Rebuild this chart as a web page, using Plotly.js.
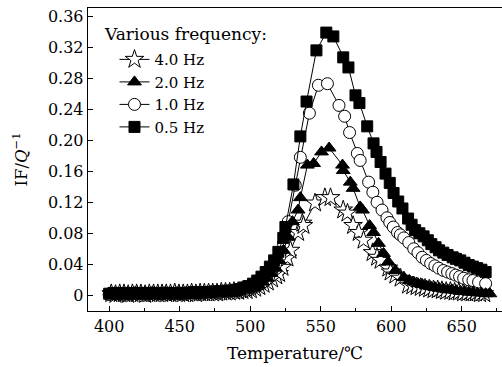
<!DOCTYPE html>
<html>
<head>
<meta charset="utf-8">
<script src="https://cdn.plot.ly/plotly-3.0.1.min.js"></script>
<style>html,body{margin:0;padding:0;background:#fff;}#chart{width:502px;height:367px;}</style>
</head>
<body>
<div id="chart"></div>
<script>
// Temperature (°C) and internal friction IF/Q^-1 for each frequency
const t05 = [400,403,406,409,412,415,418,421,424,427,430,433,436,439,442,445,448,451,454,457,460,463,466,469,472,475,478,481,484,487,490,493,496,499,502,505,508,511,514,517,520,523.5,525,530.7,535.6,540,547,554,559,566,569.7,574.7,577.5,583,587.5,589.6,592.5,596,599,601.7,605,608,612,614.5,617,620,623,626,628.5,631.5,634,637,640,643.6,646,649,652,655,658,661,664,667];
const y05 = [0.002,0.003,0.002,0.003,0.002,0.003,0.002,0.003,0.003,0.002,0.003,0.003,0.002,0.003,0.003,0.003,0.002,0.003,0.003,0.003,0.004,0.003,0.004,0.004,0.004,0.005,0.005,0.005,0.006,0.006,0.007,0.008,0.010,0.012,0.015,0.019,0.024,0.030,0.037,0.045,0.056,0.074,0.088,0.143,0.205,0.250,0.316,0.339,0.334,0.307,0.294,0.258,0.248,0.218,0.196,0.185,0.172,0.157,0.145,0.132,0.121,0.112,0.099,0.091,0.084,0.080,0.076,0.071,0.066,0.062,0.058,0.055,0.052,0.049,0.047,0.045,0.042,0.039,0.037,0.035,0.033,0.030];

const t10 = [400,403.5,406.5,409.5,412.5,415.5,418.5,421.5,424.5,427.5,430.5,433.5,436.5,439.5,442.5,445.5,448.5,451.5,454.5,457.5,460.5,463.5,466.5,469.5,472.5,475.5,478.5,481.5,484.5,487.5,490.5,493.5,496.5,500,503,506,509,512,515,518,521,523.6,527,532,535.6,542,548.4,554.8,563,567,570.5,576,578,584,587,590,593.5,597,599,601.5,604.5,606.5,609,612.5,616,619,622,625,628,631,633.7,637,640,643,645.7,648.5,651.4,655,658,662,667];
const y10 = [0.001,0.002,0.002,0.001,0.002,0.002,0.003,0.002,0.002,0.002,0.003,0.002,0.002,0.003,0.002,0.002,0.003,0.002,0.003,0.003,0.003,0.003,0.003,0.004,0.004,0.004,0.004,0.005,0.005,0.006,0.006,0.007,0.008,0.010,0.013,0.016,0.021,0.026,0.033,0.040,0.050,0.067,0.095,0.142,0.178,0.235,0.271,0.273,0.245,0.231,0.210,0.183,0.174,0.146,0.133,0.120,0.110,0.100,0.094,0.088,0.081,0.078,0.074,0.068,0.060,0.055,0.049,0.045,0.041,0.038,0.035,0.032,0.030,0.028,0.026,0.024,0.022,0.020,0.019,0.017,0.015];

const t20 = [401,404,407,410,413,416,419,422,425,428,431,434,437,440,443,446,449,452,455,458,461,464,467,470,473,476,479,482,485,488,491,494,497,500,503,506,509,512,515,518,520.5,523.6,527,530,534,535.6,540.6,545,550.6,556,565.5,566,571,573,578,579.7,584.7,587.5,591,594.6,598,603,609,613,616,619,622,625,628,631,634,637,640,643,646,649,652,655,658,661,664,667,670];
const y20 = [0.002,0.003,0.002,0.003,0.003,0.002,0.003,0.002,0.003,0.003,0.002,0.003,0.002,0.003,0.003,0.002,0.003,0.003,0.002,0.003,0.003,0.003,0.003,0.004,0.003,0.004,0.004,0.005,0.005,0.005,0.006,0.007,0.007,0.008,0.010,0.013,0.017,0.022,0.028,0.035,0.045,0.058,0.075,0.095,0.110,0.126,0.168,0.170,0.185,0.190,0.168,0.161,0.146,0.138,0.114,0.110,0.090,0.081,0.067,0.054,0.043,0.032,0.023,0.019,0.017,0.015,0.014,0.012,0.011,0.010,0.009,0.008,0.007,0.007,0.006,0.005,0.005,0.004,0.004,0.003,0.003,0.002,0.002];

const t40 = [401.5,404.5,407.5,410.5,413.5,416.5,419.5,422.5,425.5,428.5,431.5,434.5,437.5,440.5,443.5,446.5,449.5,452.5,455.5,458.5,461.5,464.5,467.5,470.5,473.5,476.5,479.5,482.5,485.5,488.5,491.5,494.5,497.5,500.5,503.5,506.5,509.5,512.5,515.5,518.5,520.5,522.9,526.4,528.6,534,537,537.8,546,553,557,566,569,573,577,580.4,586.8,590,592.5,598,599.6,603,606.7,612,615,618,621,624,627,630,633,636,639,642,645,648,651,654,657,660,663,666];
const y40 = [0.002,0.001,0.002,0.002,0.001,0.002,0.002,0.002,0.001,0.002,0.002,0.002,0.002,0.002,0.002,0.003,0.002,0.002,0.002,0.003,0.002,0.003,0.003,0.003,0.003,0.003,0.004,0.004,0.004,0.005,0.005,0.006,0.006,0.007,0.009,0.011,0.014,0.017,0.021,0.025,0.028,0.036,0.048,0.058,0.081,0.093,0.090,0.119,0.126,0.126,0.110,0.106,0.090,0.081,0.071,0.055,0.049,0.045,0.035,0.030,0.026,0.022,0.013,0.012,0.011,0.010,0.009,0.008,0.007,0.007,0.006,0.005,0.005,0.004,0.004,0.003,0.003,0.003,0.003,0.002,0.002];

const seriesNames = ['4.0 Hz','2.0 Hz','1.0 Hz','0.5 Hz'];
const legendTitle = 'Various frequency:';
const yTicks = [0,0.04,0.08,0.12,0.16,0.20,0.24,0.28,0.32,0.36];
const yTickText = ['0','0.04','0.08','0.12','0.16','0.20','0.24','0.28','0.32','0.36'];

const FONT = 'DejaVu Serif, serif';
const lineStyle = {color:'#000', width:1};

function tr(x, y, name, symbol, size, fill, rank){
  return {x:x, y:y, name:name, type:'scatter', mode:'lines+markers', line:lineStyle, legendrank:rank,
    marker:{symbol:symbol, size:size, color:fill, line:{color:'#000', width:1}}};
}

// drawing order: stars at the bottom, squares on top
const data = [
  tr(t40, y40, seriesNames[0], 'star', 14, '#fff', 1),
  tr(t10, y10, seriesNames[2], 'circle', 12, '#fff', 3),
  tr(t20, y20, seriesNames[1], 'triangle-up', 12, '#000', 2),
  tr(t05, y05, seriesNames[3], 'square', 11, '#000', 4)
];

const layout = {
  width:502, height:367,
  margin:{l:88, r:0, t:8, b:56},
  paper_bgcolor:'#fff', plot_bgcolor:'#fff',
  font:{family:FONT, size:16, color:'#000'},
  showlegend:true,
  legend:{x:0.064, y:0.884, xanchor:'left', yanchor:'top', traceorder:'normal',
    bgcolor:'rgba(0,0,0,0)', font:{family:FONT, size:15}},
  annotations:[{text:legendTitle, xref:'paper', yref:'paper', x:0.034, y:0.914,
    xanchor:'left', yanchor:'middle', showarrow:false, font:{family:FONT, size:17}}],
  xaxis:{range:[385,678.6], tick0:0, dtick:50, ticks:'inside', ticklen:5, tickwidth:1, tickcolor:'#000',
    showline:true, linecolor:'#000', linewidth:1.3, mirror:true, showgrid:false, zeroline:false,
    minor:{dtick:25, ticks:'inside', ticklen:3, tickcolor:'#000', showgrid:false},
    tickfont:{family:FONT, size:16},
    title:{text:'Temperature/℃', font:{family:FONT, size:17}, standoff:12}},
  yaxis:{range:[-0.0203,0.3707], tickvals:yTicks, ticktext:yTickText, ticks:'inside', ticklen:5, tickwidth:1, tickcolor:'#000',
    showline:true, linecolor:'#000', linewidth:1.3, mirror:false, showgrid:false, zeroline:false,
    tickfont:{family:FONT, size:16},
    title:{text:'IF/<i>Q</i><sup>−1</sup>', font:{family:FONT, size:16.5}, standoff:16}}
};

Plotly.newPlot('chart', data, layout, {displayModeBar:false, staticPlot:true});
</script>
</body>
</html>
